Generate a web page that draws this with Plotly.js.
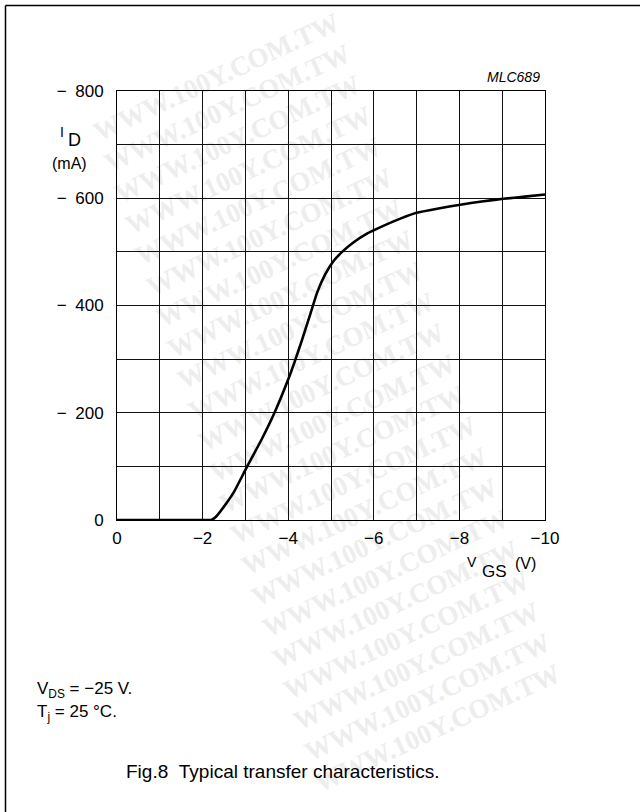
<!DOCTYPE html>
<html>
<head>
<meta charset="utf-8">
<script src="https://cdn.plot.ly/plotly-3.0.1.min.js"></script>
<style>
  html, body { margin:0; padding:0; background:#fff; }
  #wrap { position:relative; width:640px; height:812px; overflow:hidden; }
  #wm { position:absolute; left:0; top:0; width:640px; height:812px; z-index:0; }
  #wm span { position:absolute; font-family:"Liberation Serif", serif; font-weight:bold; font-size:27px; color:#ededed; white-space:nowrap; transform-origin:center center; }
  #chart { position:absolute; left:0; top:0; width:640px; height:812px; z-index:1; }
</style>
</head>
<body>
<div id="wrap">
  <div id="wm"></div>
  <div id="chart"></div>
</div>
<script>
// ---- data ----
const vgs = [0, -1, -2, -2.2, -2.3, -2.49, -2.73, -3.03, -3.39, -3.68, -3.99, -4.15, -4.32, -4.52, -4.68, -4.87, -5.06, -5.26, -5.53, -5.84, -6.07, -6.62, -7.0, -7.51, -8.02, -8.52, -9.03, -9.53, -10];
const idmA = [0, 0, 0, 0, -5, -24, -52, -98, -152, -200, -260, -295, -335, -385, -425, -459, -483, -500, -518, -534, -543, -562, -573, -581, -588, -594, -599, -603, -607];

const xTickVals = [0, -2, -4, -6, -8, -10];
const xTickText = ["0", "\u22122", "\u22124", "\u22126", "\u22128", "\u221210"];
const yTickVals = [0, -200, -400, -600, -800];
const yTickText = ["0", "\u2212\u2002200", "\u2212\u2002400", "\u2212\u2002600", "\u2212\u2002800"];

// ---- watermark (background text) ----
const wmText = "WWW.100Y.COM.TW";
(function(){
  const wm = document.getElementById('wm');
  for (let y = 78; y <= 745; y += 31) {
    const s = document.createElement('span');
    s.textContent = wmText;
    const cx = 211 + (y - 78) * 0.34;
    s.style.left = (cx - 128) + 'px';
    s.style.top = (y - 16) + 'px';
    s.style.transform = 'rotate(-25deg)';
    wm.appendChild(s);
  }
})();

// ---- layout geometry ----
const W = 640, H = 812;
const M = {l:117, r:95, t:91, b:292};
const pw = W - M.l - M.r, ph = H - M.t - M.b;
const px = x => (x - M.l) / pw;
const py = y => (H - M.b - y) / ph;

const FONT = "Liberation Sans, Arial, sans-serif";

function ann(text, x, y, size, xanchor, extra) {
  return Object.assign({
    text: text, xref:'paper', yref:'paper', x: px(x), y: py(y),
    xanchor: xanchor || 'center', yanchor:'middle', showarrow:false,
    font:{family:FONT, size:size, color:'#000'}
  }, extra || {});
}

const trace = {
  x: vgs, y: idmA, type:'scatter', mode:'lines',
  line:{color:'#000', width:2.6, shape:'spline', smoothing:0.5},
  hoverinfo:'skip', cliponaxis:false
};

const gridCol = '#111';
const layout = {
  width: W, height: H,
  margin: M,
  paper_bgcolor:'rgba(0,0,0,0)',
  plot_bgcolor:'rgba(0,0,0,0)',
  showlegend:false,
  font:{family:FONT, size:17, color:'#000'},
  xaxis:{
    range:[0, -10], tickmode:'array', tickvals:xTickVals, ticktext:xTickText,
    showgrid:true, gridcolor:gridCol, gridwidth:1, zeroline:false,
    minor:{dtick:1, showgrid:true, gridcolor:gridCol, gridwidth:1, ticks:''},
    showline:true, mirror:true, linecolor:'#000', linewidth:1,
    ticks:'', ticklabelstandoff:3, tickfont:{family:FONT, size:17, color:'#000'},
    fixedrange:true
  },
  yaxis:{
    range:[0, -800], tickmode:'array', tickvals:yTickVals, ticktext:yTickText,
    showgrid:true, gridcolor:gridCol, gridwidth:1, zeroline:false,
    minor:{dtick:100, showgrid:true, gridcolor:gridCol, gridwidth:1, ticks:''},
    showline:true, mirror:true, linecolor:'#000', linewidth:1,
    ticks:'', ticklabelstandoff:9, tickfont:{family:FONT, size:17, color:'#000'},
    fixedrange:true
  },
  shapes:[
    {type:'line', xref:'paper', yref:'paper', x0:px(5.5), x1:px(640), y0:py(5.5), y1:py(5.5), line:{color:'#000', width:1.5}},
    {type:'line', xref:'paper', yref:'paper', x0:px(5.5), x1:px(5.5), y0:py(5.5), y1:py(812), line:{color:'#000', width:1.5}}
  ],
  annotations:[
    ann('I', 62, 132, 14),
    ann('D', 74, 140, 18),
    ann('(mA)', 69, 163, 16),
    ann('<i>MLC689</i>', 542, 77, 14, 'right'),
    ann('V', 472, 562, 14),
    ann('GS', 494, 571, 17),
    ann('(V)', 525, 563, 16),
    ann('V<sub>DS</sub> = \u221225 V.', 35, 690, 17, 'left'),
    ann('T<sub>j</sub> = 25 \u00b0C.', 35, 713, 17, 'left'),
    ann('Fig.8\u00a0\u00a0Typical transfer characteristics.', 124, 771, 19, 'left')
  ]
};

Plotly.newPlot('chart', [trace], layout, {staticPlot:true, displayModeBar:false}).then(function(gd){
  gd.querySelectorAll('svg text').forEach(function(t){
    if (!t.textContent || !t.textContent.trim()) t.parentNode.removeChild(t);
  });
});
</script>
</body>
</html>
